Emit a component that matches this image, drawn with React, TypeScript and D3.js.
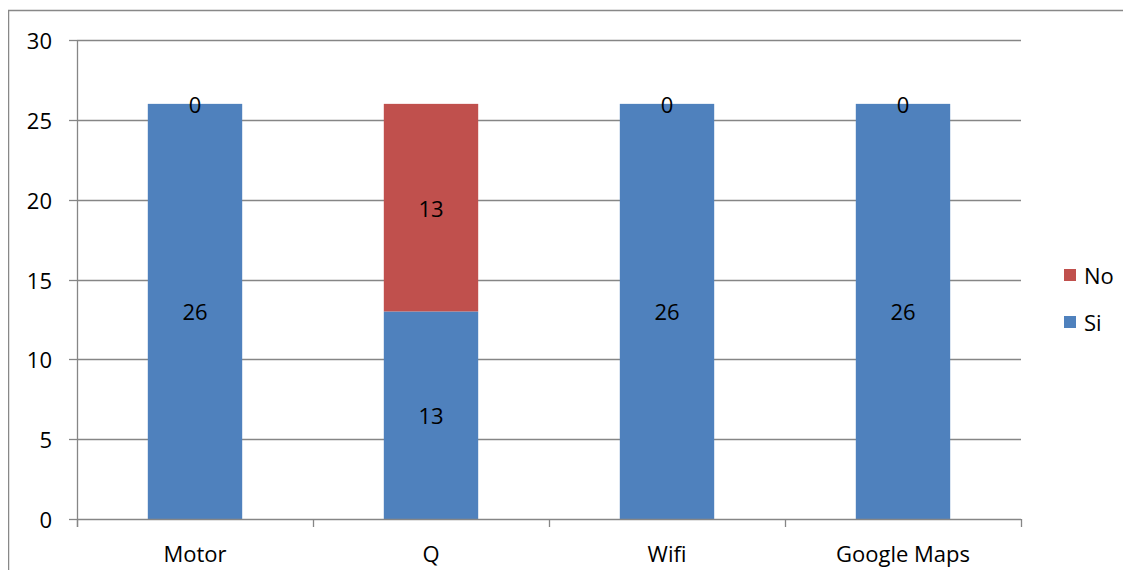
import React from "react";
import * as d3 from "d3";

const categories = ["Motor", "Q", "Wifi", "Google Maps"];
const siValues = [26, 13, 26, 26];
const noValues = [0, 13, 0, 0];
const yTicks = [0, 5, 10, 15, 20, 25, 30];
const seriesNames = ["Si", "No"];

const W = 1131;
const H = 578;
const FONT = "'Open Sans', 'Liberation Sans', sans-serif";
const FS = 22;

export default function App() {
  const x0 = 77, x1 = 1021, yTop = 40, yBot = 519;
  const x = d3.scaleBand<string>().domain(categories).range([x0, x1]).paddingInner(0.6).paddingOuter(0.3);
  const y = d3.scaleLinear().domain([0, 30]).range([yBot, yTop]);
  const colors: Record<string, string> = { Si: "#4F81BD", No: "#C0504D" };

  const rows = categories.map((c, i) => ({ cat: c, Si: siValues[i], No: noValues[i] }));
  const stack = d3.stack<any>().keys(seriesNames)(rows);
  const step = (x1 - x0) / categories.length;
  const gridColor = "#868686";

  return (
    <div style={{ margin: -8 }}>
      <svg width={W} height={H} style={{ display: "block" }}>
        <rect x={0} y={0} width={W} height={H} fill="#fff" />
        <path d={`M8.5,${H} V10.5 H${W}`} fill="none" stroke="#888" strokeWidth={1.5} />
        {yTicks.map((t) => (
          <g key={t}>
            {t > 0 && (
              <line x1={x0} x2={x1} y1={Math.round(y(t)) + 0.5} y2={Math.round(y(t)) + 0.5} stroke={gridColor} strokeWidth={1.3} />
            )}
            <line x1={x0 - 8} x2={x0} y1={Math.round(y(t)) + 0.5} y2={Math.round(y(t)) + 0.5} stroke={gridColor} strokeWidth={1.3} />
            <text x={52} y={y(t)} textAnchor="end" dominantBaseline="central" fontFamily={FONT} fontSize={FS} fill="#000">
              {t}
            </text>
          </g>
        ))}
        {stack.map((s) => (
          <g key={s.key}>
            {s.map((d: any, i: number) => {
              const cat = categories[i];
              const bx = x(cat)!;
              return (
                <rect key={cat} x={bx} y={y(d[1])} width={x.bandwidth()} height={y(d[0]) - y(d[1])} fill={colors[s.key]} />
              );
            })}
          </g>
        ))}
        {/* axes */}
        <line x1={x0 + 0.5} x2={x0 + 0.5} y1={yTop} y2={yBot + 8} stroke={gridColor} strokeWidth={1.3} />
        <line x1={x0} x2={x1} y1={yBot + 0.5} y2={yBot + 0.5} stroke={gridColor} strokeWidth={1.3} />
        {d3.range(categories.length + 1).map((i) => (
          <line key={i} x1={x0 + i * step + 0.5} x2={x0 + i * step + 0.5} y1={yBot} y2={yBot + 8} stroke={gridColor} strokeWidth={1.3} />
        ))}
        {categories.map((c) => (
          <text key={c} x={x(c)! + x.bandwidth() / 2} y={553} textAnchor="middle" dominantBaseline="central" fontFamily={FONT} fontSize={FS} fill="#000">
            {c}
          </text>
        ))}
        {/* data labels */}
        {stack.map((s) => (
          <g key={"l" + s.key}>
            {s.map((d: any, i: number) => {
              const cat = categories[i];
              const v = d[1] - d[0];
              return (
                <text key={cat} x={x(cat)! + x.bandwidth() / 2} y={y((d[0] + d[1]) / 2)} textAnchor="middle" dominantBaseline="central" fontFamily={FONT} fontSize={FS} fill="#000">
                  {v}
                </text>
              );
            })}
          </g>
        ))}
        {/* legend */}
        {["No", "Si"].map((k, i) => (
          <g key={k} transform={`translate(1064, ${275 + i * 47})`}>
            <rect x={0} y={-6} width={12} height={12} fill={colors[k]} />
            <text x={20} y={0} dominantBaseline="central" fontFamily={FONT} fontSize={FS} fill="#000">
              {k}
            </text>
          </g>
        ))}
      </svg>
    </div>
  );
}
